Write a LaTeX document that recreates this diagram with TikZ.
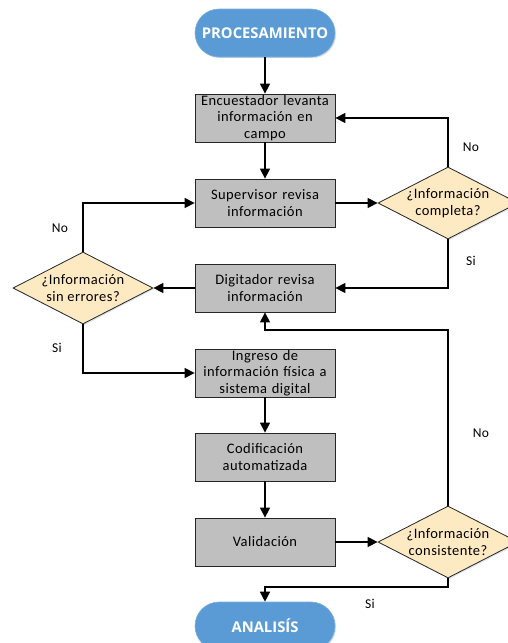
\documentclass[tikz,border=0pt]{standalone}
\usepackage{fontspec}
\setmainfont{Carlito}
\newfontfamily\boxfont[LetterSpace=3]{Carlito}
\newfontfamily\termfont{Open Sans}
\usetikzlibrary{shapes.geometric,arrows.meta,shadows}
\definecolor{termblue}{RGB}{91,155,213}
\definecolor{boxgray}{RGB}{191,191,191}
\definecolor{diacream}{RGB}{253,234,195}
\tikzset{
  shd/.style={drop shadow={opacity=0.18,shadow xshift=1.2pt,shadow yshift=-1.2pt,fill=termblue!60!black}},
  term/.style={rectangle,rounded corners=24pt,fill=termblue,draw=termblue!80!white,line width=0.6pt,shd,
    minimum width=140pt,minimum height=48pt,text=white,font=\termfont\fontsize{14.8}{17}\selectfont\bfseries,inner sep=0pt},
  procbox/.style={rectangle,fill=boxgray,draw=black!85,line width=0.8pt,minimum width=140pt,minimum height=48pt,shd,
    text width=138pt,align=center,inner sep=0pt,font=\boxfont\fontsize{14.5}{16.7}\selectfont},
  dia/.style={diamond,fill=diacream,draw=black!85,line width=0.8pt,minimum width=140pt,minimum height=72pt,shd,
    aspect=1.94,inner sep=0pt},
  diatext/.style={align=center,font=\boxfont\fontsize{14.5}{16.7}\selectfont,inner sep=0pt},
  arr/.style={draw=black,line width=1.3pt,-{Triangle[length=10pt,width=10pt]}},
  lbl/.style={font=\boxfont\fontsize{13.5}{16}\selectfont,inner sep=0pt}
}
\begin{document}
\begin{tikzpicture}[x=1pt,y=-1pt]
\useasboundingbox (0,0) rectangle (507,643);
\node[term] (proc) at (265,33) {PROCESAMIENTO};
\node[procbox] (b1) at (265,118) {Encuestador levanta\\información en\\campo};
\node[procbox] (b2) at (265,203) {Supervisor revisa\\información};
\node[procbox] (b3) at (265,288) {Digitador revisa\\información};
\node[procbox] (b4) at (265,373) {Ingreso de\\información física a\\sistema digital};
\node[procbox] (b5) at (265,457) {Codificación\\automatizada};
\node[procbox] (b6) at (265,542) {Validación};
\node[term] (an) at (265,626) {ANALISÍS};
\node[dia] (d1) at (448,203) {};
\node[diatext] at (d1.center) {¿Información\\completa?};
\node[dia] (d2) at (83,288) {};
\node[diatext] at (d2.center) {¿Información\\sin errores?};
\node[dia] (d3) at (448,542) {};
\node[diatext] at (d3.center) {¿Información\\consistente?};
\coordinate (c1) at (265,330);
\coordinate (c2) at (265,587);

\draw[arr] (proc.south) -- (b1.north);
\draw[arr] (b1.south) -- (b2.north);
\draw[arr] (b2.east) -- (d1.west);
\draw[arr] (d1.north) |- (b1.east);
\draw[arr] (d1.south) |- (b3.east);
\draw[arr] (b3.west) -- (d2.east);
\draw[arr] (d2.north) |- (b2.west);
\draw[arr] (d2.south) |- (b4.west);
\draw[arr] (b4.south) -- (b5.north);
\draw[arr] (b5.south) -- (b6.north);
\draw[arr] (b6.east) -- (d3.west);
\draw[arr] (d3.north) |- (c1) -- (b3.south);
\draw[arr] (d3.south) |- (c2) -- (an.north);

\node[lbl] (l1) at (471,147) {No};
\node[lbl] (l2) at (471,261) {Si};
\node[lbl] (l3) at (60,228) {No};
\node[lbl] (l4) at (57,348) {Si};
\node[lbl] (l5) at (481,433) {No};
\node[lbl] (l6) at (370,604) {Si};
\end{tikzpicture}
\end{document}
